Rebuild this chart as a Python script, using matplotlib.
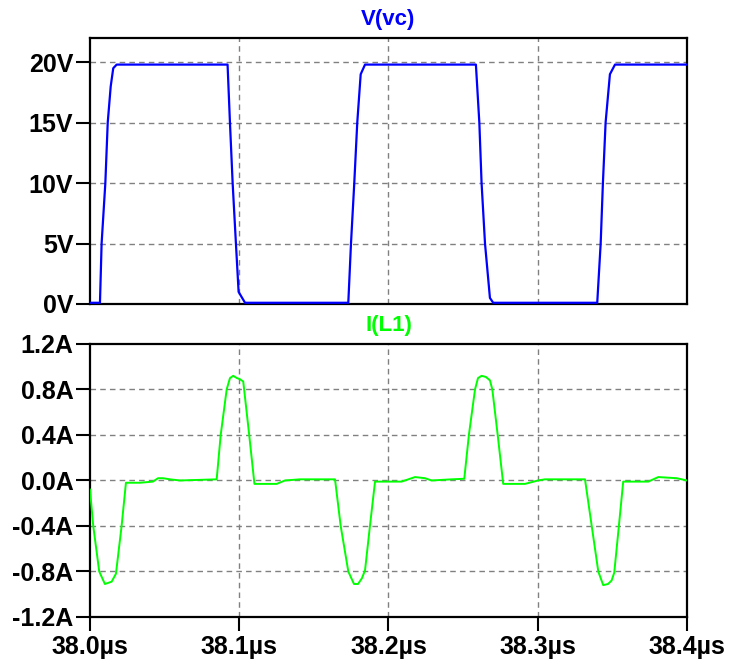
import numpy as np
import matplotlib
matplotlib.use("Agg")
import matplotlib.pyplot as plt

# V(vc) trace, time in us
t_v = [38.0000, 38.0067, 38.0078, 38.0103, 38.0119, 38.0139, 38.0156, 38.0179,
       38.0922, 38.0938, 38.0956, 38.0978, 38.0996, 38.1039,
       38.1731, 38.1749, 38.1771, 38.1791, 38.1814, 38.1843,
       38.2586, 38.2609, 38.2624, 38.2647, 38.2680, 38.2702,
       38.3399, 38.3422, 38.3437, 38.3455, 38.3484, 38.3518, 38.4000]
v_vc = [0.1, 0.1, 5, 10, 15, 18, 19.5, 19.8,
        19.8, 15, 10, 5, 1, 0.1,
        0.1, 5, 10, 15, 19, 19.8,
        19.8, 15, 10, 5, 0.5, 0.1,
        0.1, 5, 10, 15, 19, 19.8, 19.8]

# I(L1) trace
t_i = [38.0000, 38.0022, 38.0062, 38.0100, 38.0145, 38.0174, 38.0212, 38.0241,
       38.0335, 38.0422, 38.0456, 38.0489, 38.0536, 38.0603, 38.0849,
       38.0876, 38.0916, 38.0938, 38.0960, 38.0985, 38.1005, 38.1027, 38.1067, 38.1102,
       38.1251, 38.1307, 38.1407, 38.1642, 38.1680, 38.1731, 38.1769, 38.1796,
       38.1822, 38.1843, 38.1876, 38.1910, 38.2088, 38.2178, 38.2245, 38.2289,
       38.2423, 38.2508, 38.2539, 38.2580, 38.2600, 38.2624, 38.2653, 38.2680,
       38.2696, 38.2732, 38.2769, 38.2915, 38.3002, 38.3049, 38.3317, 38.3362,
       38.3406, 38.3439, 38.3471, 38.3495, 38.3513, 38.3544, 38.3573, 38.3741,
       38.3808, 38.3931, 38.4000]
i_l1 = [-0.08, -0.40, -0.80, -0.91, -0.89, -0.82, -0.40, -0.02,
        -0.02, -0.01, 0.02, 0.02, 0.01, 0.00, 0.01,
        0.40, 0.80, 0.90, 0.92, 0.90, 0.89, 0.87, 0.40, -0.03,
        -0.03, 0.00, 0.01, 0.01, -0.40, -0.80, -0.91, -0.91,
        -0.86, -0.79, -0.40, -0.01, -0.01, 0.03, 0.02, 0.00,
        0.01, 0.015, 0.40, 0.80, 0.90, 0.92, 0.91, 0.88,
        0.80, 0.40, -0.03, -0.03, 0.00, 0.01, 0.01, -0.40,
        -0.80, -0.92, -0.91, -0.88, -0.81, -0.40, -0.01, -0.01,
        0.03, 0.02, 0.00]

x_ticks = [38.0, 38.1, 38.2, 38.3, 38.4]
x_labels = ["38.0µs", "38.1µs", "38.2µs", "38.3µs", "38.4µs"]
v_ticks = [0, 5, 10, 15, 20]
v_labels = ["0V", "5V", "10V", "15V", "20V"]
i_ticks = [-1.2, -0.8, -0.4, 0.0, 0.4, 0.8, 1.2]
i_labels = ["-1.2A", "-0.8A", "-0.4A", "0.0A", "0.4A", "0.8A", "1.2A"]

plt.rcParams['font.family'] = ['Liberation Sans', 'DejaVu Sans']
plt.rcParams['font.weight'] = 'bold'

fig = plt.figure(figsize=(7.35, 6.63), dpi=100)
ax1 = fig.add_axes([0.1224, 0.5415, 0.8122, 0.4012])
ax2 = fig.add_axes([0.1224, 0.0694, 0.8122, 0.4118])

grid_kw = dict(color='#808080', linestyle=(0, (4, 3)), linewidth=1.0)

for ax in (ax1, ax2):
    ax.set_xlim(38.0, 38.4)
    ax.set_xticks(x_ticks)
    for s in ax.spines.values():
        s.set_linewidth(1.6)
    ax.tick_params(direction='out', length=10, width=1.5, labelsize=18)
    ax.tick_params(axis='y', pad=2)
    ax.tick_params(axis='x', pad=3)
    for xt in x_ticks[1:-1]:
        ax.axvline(xt, **grid_kw, zorder=1)

ax1.plot(t_v, v_vc, color='#0000ff', linewidth=1.6, zorder=3)
ax1.set_ylim(0, 22)
ax1.set_yticks(v_ticks)
ax1.set_yticklabels(v_labels)
ax1.set_xticklabels([])
ax1.tick_params(axis='x', length=0)
for yt in v_ticks[1:]:
    ax1.axhline(yt, **grid_kw, zorder=1)
ax1.set_title("V(vc)", color='#0000ff', fontsize=16, fontweight='bold', pad=9)

ax2.plot(t_i, i_l1, color='#00ff00', linewidth=1.4, zorder=3)
ax2.set_ylim(-1.2, 1.2)
ax2.set_yticks(i_ticks)
ax2.set_yticklabels(i_labels)
ax2.set_xticklabels(x_labels)
for yt in i_ticks[1:-1]:
    ax2.axhline(yt, **grid_kw, zorder=1)
ax2.set_title("I(L1)", color='#00ff00', fontsize=16, fontweight='bold', pad=9)

fig.savefig("out.png", dpi=100)
